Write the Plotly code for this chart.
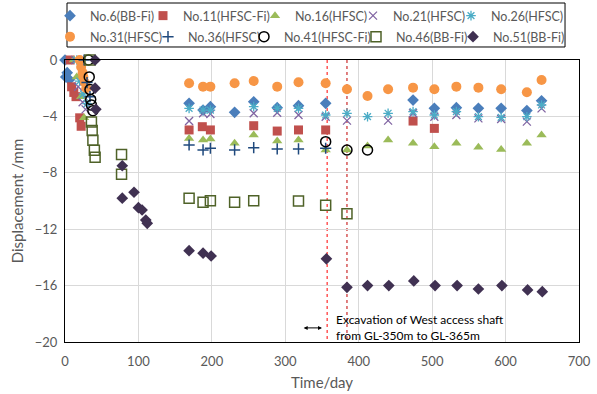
import plotly.graph_objects as go

# ---------------- data ----------------
no6_days = [0, 1, 3, 6, 169, 188, 198, 231, 257, 289, 318, 355, 474, 503, 533, 563, 594, 629, 649]
no6_vals = [0, -1.2, -0.9, -1.4, -3.07, -3.55, -3.31, -3.71, -2.96, -3.38, -3.24, -3.07, -2.84, -3.43, -3.38, -3.43, -3.43, -3.59, -2.89]

no11_days = [7, 9, 12, 15, 20, 22, 169, 187, 198, 257, 289, 318, 355, 474, 503]
no11_vals = [0, -1.9, -2.3, -2.6, -4.1, -4.7, -4.96, -4.73, -4.96, -4.66, -5.04, -4.96, -4.96, -4.33, -4.85]

no16_days = [12, 16, 22, 26, 169, 188, 198, 231, 257, 289, 318, 355, 384, 412, 440, 474, 503, 533, 563, 594, 629, 649]
no16_vals = [0, -1.2, -2.6, -4.1, -5.56, -5.67, -5.6, -5.91, -5.32, -5.74, -5.67, -6.38, -6.38, -6.1, -5.67, -5.91, -6.15, -5.91, -6.19, -6.34, -5.91, -5.32]

no21_days = [14, 18, 24, 28, 169, 188, 198, 257, 289, 318, 355, 384, 440, 474, 503, 533, 563, 594, 629, 649]
no21_vals = [0, -1.9, -3.0, -3.5, -4.33, -3.78, -3.83, -3.78, -3.74, -3.9, -4.02, -4.3, -4.3, -3.78, -4.02, -3.9, -4.14, -4.19, -4.37, -3.43]

no26_days = [16, 20, 25, 30, 169, 188, 198, 257, 289, 318, 355, 384, 412, 440, 474, 503, 533, 563, 594, 629, 649]
no26_vals = [0, -1.5, -2.4, -3.1, -3.43, -3.55, -3.55, -3.31, -3.43, -3.43, -3.9, -3.78, -4.02, -3.78, -3.66, -3.9, -3.66, -4.02, -4.07, -4.02, -3.19]

no31_days = [20, 22, 24, 25, 27, 29, 169, 188, 198, 231, 257, 289, 318, 355, 384, 412, 440, 474, 503, 533, 563, 594, 629, 649]
no31_vals = [0, -0.5, -0.9, -1.2, -1.6, -2.0, -1.65, -1.89, -1.89, -1.65, -1.49, -1.89, -1.58, -1.65, -2.08, -2.55, -2.08, -1.96, -2.08, -1.89, -1.96, -2.08, -2.29, -1.42]

no36_days = [26, 30, 34, 169, 188, 198, 231, 257, 289, 318, 355]
no36_vals = [0, -1.6, -2.6, -6.03, -6.38, -6.26, -6.38, -6.22, -6.31, -6.31, -6.26]

no41_days = [32, 33, 34, 35, 36, 38, 355, 384, 412]
no41_vals = [0, -1.2, -2.1, -2.8, -3.2, -3.6, -5.79, -6.38, -6.38]

no46_days = [34, 36, 37, 38, 40, 41, 77, 77, 169, 188, 198, 231, 257, 318, 355, 384]
no46_vals = [0, -4.4, -5.0, -5.7, -6.4, -6.9, -6.7, -8.1, -9.81, -10.09, -9.98, -10.09, -9.98, -10.0, -10.3, -10.9]

no51_days = [41, 41, 42, 78, 78, 94, 100, 105, 110, 112, 169, 188, 199, 356, 384, 412, 441, 475, 504, 534, 563, 595, 630, 650]
no51_vals = [0, -2.0, -3.5, -7.5, -9.8, -9.38, -10.47, -10.64, -11.35, -11.58, -13.52, -13.7, -13.9, -14.1, -16.12, -16.0, -16.0, -15.67, -16.0, -16.0, -16.24, -16.0, -16.31, -16.43]

event_days = [357, 384]
x_ticks = [0, 100, 200, 300, 400, 500, 600, 700]
y_ticks = [0, -4, -8, -12, -16, -20]

series = [
    ("No.6(BB-Fi)", no6_days, no6_vals, dict(symbol="diamond", size=9, color="#4A7EBB")),
    ("No.11(HFSC-Fi)", no11_days, no11_vals, dict(symbol="square", size=9, color="#C0504D")),
    ("No.16(HFSC)", no16_days, no16_vals, dict(symbol="triangle-up", size=9, color="#9BBB59")),
    ("No.21(HFSC)", no21_days, no21_vals, dict(symbol="x-thin", size=8, color="#8064A2", line=dict(width=1.3, color="#8064A2"))),
    ("No.26(HFSC)", no26_days, no26_vals, dict(symbol="asterisk", size=8, color="#4BACC6", line=dict(width=1.3, color="#4BACC6"))),
    ("No.31(HFSC)", no31_days, no31_vals, dict(symbol="circle", size=10, color="#F79646")),
    ("No.36(HFSC)", no36_days, no36_vals, dict(symbol="cross-thin", size=8, color="#1F497D", line=dict(width=1.5, color="#1F497D"))),
    ("No.41(HFSC-Fi)", no41_days, no41_vals, dict(symbol="circle-open", size=10, color="#000000", line=dict(width=1.5))),
    ("No.46(BB-Fi)", no46_days, no46_vals, dict(symbol="square-open", size=10, color="#4F6228", line=dict(width=1.5))),
    ("No.51(BB-Fi)", no51_days, no51_vals, dict(symbol="diamond", size=9, color="#403152")),
]

# legend entry placement (pixel positions of the legend swatches, two rows of five)
legend_x_px = [70, 163, 275, 373, 471, 70, 168, 264, 376, 473]
legend_row_px = [16, 16, 16, 16, 16, 37, 37, 37, 37, 37]

W, H = 597, 394
fig = go.Figure()
legends = {}
for i, (name, xs, ys, mk) in enumerate(series):
    lid = "legend" if i == 0 else f"legend{i + 1}"
    fig.add_trace(go.Scatter(x=xs, y=ys, mode="markers", name=name, marker=mk, cliponaxis=False, legend=lid))
    legends[lid] = dict(
        xref="container", yref="container",
        x=(legend_x_px[i] - 20) / W, y=1 - legend_row_px[i] / H,
        xanchor="left", yanchor="middle", orientation="h",
        bgcolor="rgba(0,0,0,0)", borderwidth=0,
        font=dict(size=12.5, color="#595959"), itemwidth=30,
    )

for i, d in enumerate(event_days):
    fig.add_shape(type="line", xref="x", yref="y", x0=d, x1=d, y0=0, y1=-20,
                  line=dict(color="#FF0000" if i == 0 else "#C00000", width=1, dash="dot"), layer="below")

# legend frame
fig.add_shape(type="rect", xref="paper", yref="paper", x0=0.0039, x1=0.9728, y0=1.0461, y1=1.2021,
              line=dict(color="#000000", width=1), fillcolor="white", layer="below")

fig.add_annotation(x=350, y=-19.0, ax=323, ay=-19.0, xref="x", yref="y", axref="x", ayref="y",
                   text="", showarrow=True, arrowhead=2, arrowside="end+start", arrowsize=0.8,
                   arrowwidth=1, arrowcolor="#000000")
fig.add_annotation(x=366, y=-18.95, xref="x", yref="y", xanchor="left", yanchor="middle",
                   text="Excavation of West access shaft<br>from GL-350m to GL-365m",
                   showarrow=False, align="left", font=dict(size=12, color="#000000"))

fig.update_layout(
    width=W, height=H,
    margin=dict(l=65, r=18, t=60, b=52, autoexpand=False),
    paper_bgcolor="white", plot_bgcolor="white",
    font=dict(family="Lato", size=13, color="#595959"),
    showlegend=True,
    **legends,
)
fig.update_xaxes(range=[0, 700], tickvals=x_ticks, showgrid=True, gridcolor="#D9D9D9", gridwidth=1,
                 showline=True, linecolor="#000000", linewidth=1.3, mirror=True, zeroline=False,
                 ticks="", ticklabelstandoff=7, automargin=False,
                 title=dict(text="Time/day", font=dict(size=15, color="#595959"), standoff=9))
fig.update_yaxes(range=[-20, 0], tickvals=y_ticks, showgrid=True, gridcolor="#D9D9D9", gridwidth=1,
                 showline=True, linecolor="#000000", linewidth=1.3, mirror=True, zeroline=False,
                 ticks="", ticklabelstandoff=4, automargin=False,
                 title=dict(text="Displacement /mm", font=dict(size=15, color="#595959"), standoff=7))

fig.write_html("out.html", post_script="document.body.style.margin='0px';",
               config={"displayModeBar": False})
